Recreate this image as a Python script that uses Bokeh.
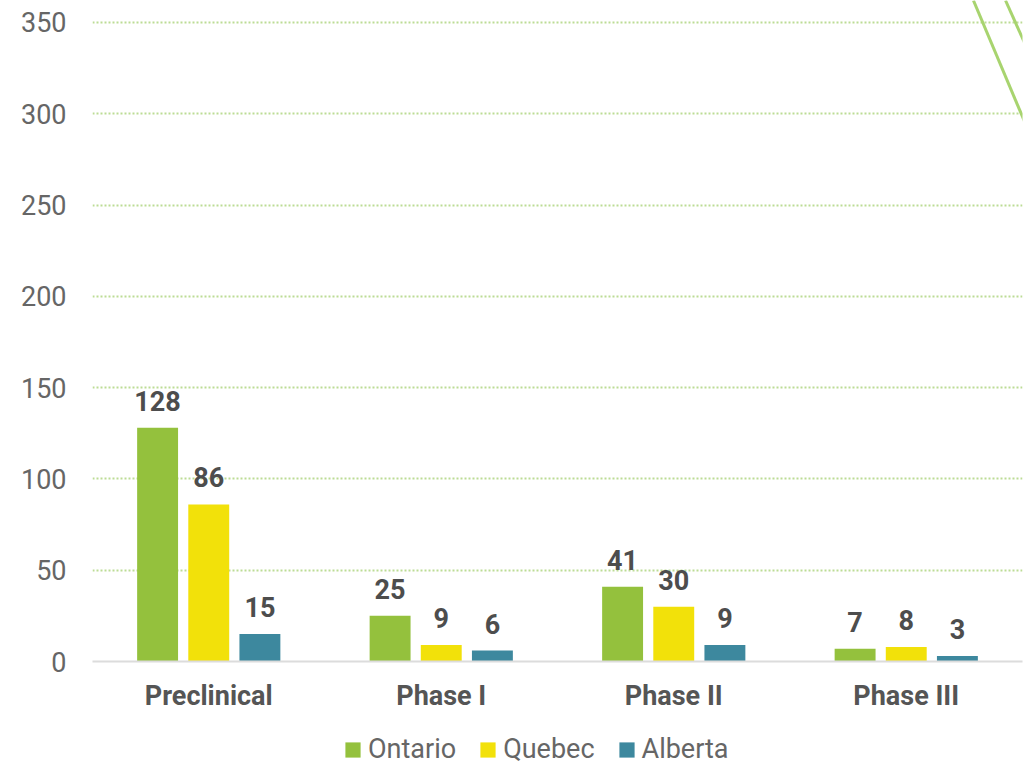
from bokeh.plotting import figure
from bokeh.layouts import column
from bokeh.models import FactorRange, Range1d, FixedTicker, Legend, LegendItem, ColumnDataSource
from bokeh.transform import dodge
from bokeh.core.properties import value
from bokeh.embed import file_html
from bokeh.resources import INLINE

# ---- data ----
categories = ["Preclinical", "Phase I", "Phase II", "Phase III"]
ontario = [128, 25, 41, 7]
quebec = [86, 9, 30, 8]
alberta = [15, 6, 9, 3]
series_names = ["Ontario", "Quebec", "Alberta"]
series_colors = ["#94c13d", "#f2e10a", "#3d889e"]
y_ticks = [0, 50, 100, 150, 200, 250, 300, 350]

# decorative double stroke at top-right (data units)
deco1_x = [3.789, 4.034]
deco1_y = [362.05, 288.1]
deco2_x = [3.927, 4.043]
deco2_y = [362.05, 329.2]

FONT = "Roboto"
FS = "27px"

src = ColumnDataSource(dict(
    cat=categories,
    ontario=ontario, quebec=quebec, alberta=alberta,
    ontario_t=[str(v) for v in ontario],
    quebec_t=[str(v) for v in quebec],
    alberta_t=[str(v) for v in alberta],
))

p = figure(width=1032, height=722, output_backend="svg", toolbar_location=None,
           x_range=FactorRange(factors=categories), y_range=Range1d(0, 362.05),
           min_border_left=92, min_border_right=10, min_border_top=0, min_border_bottom=61)
p.outline_line_color = None
p.background_fill_color = "white"
p.border_fill_color = "white"

offsets = [-0.22, 0.0, 0.22]
cols = ["ontario", "quebec", "alberta"]
for col, off, color in zip(cols, offsets, series_colors):
    p.vbar(x=dodge("cat", off, range=p.x_range), top=col, width=0.176, source=src,
           fill_color=color, line_color=None)
    p.text(x=dodge("cat", off, range=p.x_range), y=col, text=col + "_t", source=src,
           text_align="center", text_baseline="alphabetic", y_offset=-27,
           text_font=value(FONT), text_font_size=FS, text_font_style="bold",
           text_color="#4d4d4d")

p.line(deco1_x, deco1_y, line_color="#a8d46f", line_width=3)
p.line(deco2_x, deco2_y, line_color="#a8d46f", line_width=3)

# y axis
p.yaxis.ticker = FixedTicker(ticks=y_ticks)
p.yaxis.axis_line_color = None
p.yaxis.major_tick_line_color = None
p.yaxis.minor_tick_line_color = None
p.yaxis.major_label_standoff = 20
p.yaxis.major_label_text_font = FONT
p.yaxis.major_label_text_font_size = FS
p.yaxis.major_label_text_color = "#666666"

# grid
p.xgrid.grid_line_color = None
p.ygrid.ticker = FixedTicker(ticks=y_ticks[1:])
p.ygrid.grid_line_color = "#bcdc95"
p.ygrid.grid_line_width = 2
p.ygrid.grid_line_dash = "2 2"

# x axis
p.xaxis.axis_line_color = "#dcdcdc"
p.xaxis.axis_line_width = 2
p.xaxis.major_tick_line_color = None
p.xaxis.minor_tick_line_color = None
p.xaxis.major_label_standoff = 12
p.xaxis.major_label_text_font = FONT
p.xaxis.major_label_text_font_size = FS
p.xaxis.major_label_text_font_style = "bold"
p.xaxis.major_label_text_color = "#555555"

# legend strip (zero-height swatch renderers just carry the legend colours)
p2 = figure(width=1032, height=43, output_backend="svg", toolbar_location=None,
            x_range=Range1d(0, 1), y_range=Range1d(0, 1),
            x_axis_location=None, y_axis_location=None,
            min_border_left=0, min_border_right=0, min_border_top=0, min_border_bottom=0)
p2.outline_line_color = None
p2.xgrid.visible = False
p2.ygrid.visible = False
leg_renderers = [p2.vbar(x=[0], top=[0], bottom=[0], width=0.0, fill_color=c, line_color=None)
                 for c in series_colors]
legend = Legend(items=[LegendItem(label=n, renderers=[r]) for n, r in zip(series_names, leg_renderers)],
                orientation="horizontal", location=(251, 0),
                label_text_font=FONT, label_text_font_size=FS, label_text_color="#666666",
                glyph_width=19, glyph_height=19, label_standoff=6, spacing=22,
                padding=0, margin=0, border_line_color=None, background_fill_alpha=0)
p2.add_layout(legend, "center")

layout = column(p, p2, spacing=0)
open("out.html", "w").write(file_html(layout, INLINE))
